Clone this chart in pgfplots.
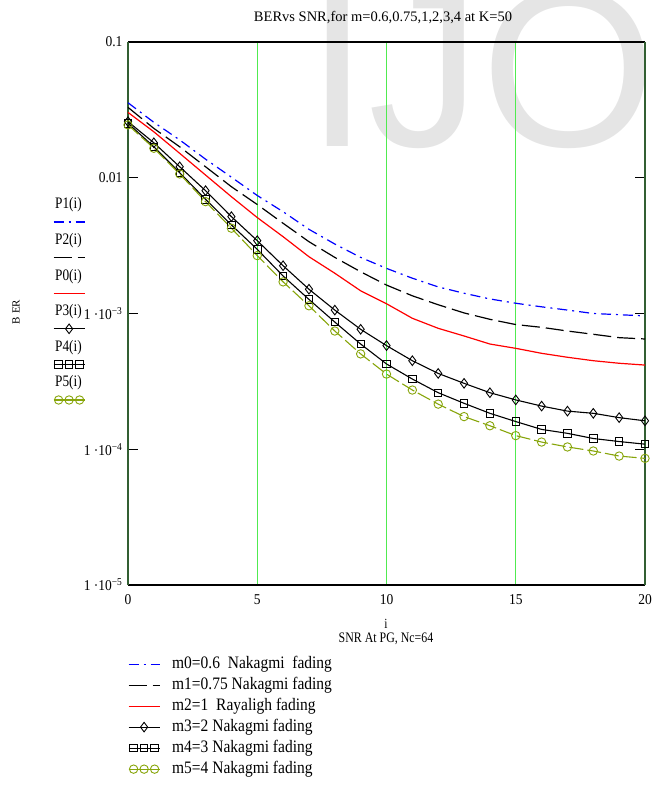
\documentclass[border=0pt]{standalone}
\usepackage{fontspec}
\setmainfont{Liberation Serif}
\setsansfont{Liberation Sans}
\newfontfamily\legfont[FakeStretch=0.885]{Liberation Serif}
\newfontfamily\trfont[FakeStretch=0.83]{Liberation Serif}
\newfontfamily\xlfont[FakeStretch=0.82]{Liberation Serif}
\newfontfamily\tkfont[FakeStretch=0.9]{Liberation Serif}
\usepackage{pgfplots}
\pgfplotsset{compat=1.18}

\definecolor{gridgreen}{RGB}{80,235,80}
\definecolor{axgreen}{RGB}{50,95,50}
\definecolor{olivec}{RGB}{135,165,10}

% legend samples: 31pt long, fixed 10pt high box
\pgfplotsset{
  lineleg/.style={legend image code/.code={
      \path[draw=none,fill=none] (0pt,-5pt) rectangle (31pt,5pt);
      \draw[##1,mark=none] (0pt,0pt) -- (31pt,0pt);}},
  oneleg/.style={legend image code/.code={
      \path[draw=none,fill=none] (0pt,-5pt) rectangle (31pt,5pt);
      \draw[##1,mark=none] (0pt,0pt) -- (31pt,0pt);
      \draw[##1] plot[only marks] coordinates {(15.5pt,0pt)};}},
  threeleg/.style={legend image code/.code={
      \path[draw=none,fill=none] (0pt,-5pt) rectangle (31pt,5pt);
      \draw[##1,mark=none,solid] (0pt,0pt) -- (31pt,0pt);
      \draw[##1,solid] plot[only marks] coordinates {(5pt,0pt) (15.5pt,0pt) (26pt,0pt)};}},
  sP1/.style={blue, line width=1.2pt, dash pattern=on 10pt off 5pt on 2pt off 5pt, mark=none, lineleg},
  sP2/.style={black, line width=1.2pt, dash pattern=on 18pt off 6pt, mark=none, lineleg},
  sP0/.style={red, line width=1.2pt, solid, mark=none, lineleg},
  sP3/.style={black, line width=1.1pt, solid, mark=diamond, mark size=4.8pt, mark options={solid, line width=0.9pt}, oneleg},
  sP4/.style={black, line width=1.1pt, solid, mark=square, mark size=3.7pt, mark options={solid, line width=0.9pt}, threeleg},
  sP5/.style={olivec, line width=1.1pt, dash pattern=on 14pt off 4pt, mark=o, mark size=4.2pt, mark options={solid, line width=0.9pt}, threeleg},
}

\begin{document}
\begin{tikzpicture}
\path[use as bounding box] (0pt,0pt) rectangle (652pt,800pt);

% watermark
\node[anchor=base west, inner sep=0pt, text=black!10,
      font=\sffamily\fontsize{225}{225}\selectfont] at (306pt,653pt) {IJO};

% title and labels
\node[font=\fontsize{14.5}{16}\selectfont] at (383pt,782pt) {BERvs SNR,for m=0.6,0.75,1,2,3,4 at K=50};
\node[rotate=90, font=\fontsize{11}{13}\selectfont] at (16pt,488pt) {B ER};
\node[font=\xlfont\fontsize{14}{16}\selectfont] at (386pt,176.5pt) {i};
\node[font=\xlfont\fontsize{14.5}{16}\selectfont] at (386pt,161.5pt) {SNR At PG, Nc=64};

% trace names on the left
\foreach \t/\yv in {P1(i)/595, P2(i)/559, P0(i)/523, P3(i)/488, P4(i)/452, P5(i)/417}
  \node[font=\trfont\fontsize{16}{18}\selectfont] at (68.5pt,\yv pt) {\t};

% hidden axis that only carries the trace samples on the left
\begin{axis}[
  at={(0pt,0pt)}, anchor=south west, scale only axis,
  width=652pt, height=800pt, hide axis,
  xmin=0, xmax=1, ymin=0, ymax=1,
  legend style={at={(53/652,{(800-217)/800})}, anchor=north west,
    draw=none, fill=none, inner sep=0pt, outer sep=0pt,
    row sep=25.6pt, column sep=0pt,
    nodes={inner sep=0pt, text height=0pt, text depth=0pt}},
]
\addlegendimage{sP1}\addlegendentry{\mbox{}}
\addlegendimage{sP2}\addlegendentry{\mbox{}}
\addlegendimage{sP0}\addlegendentry{\mbox{}}
\addlegendimage{sP3}\addlegendentry{\mbox{}}
\addlegendimage{sP4}\addlegendentry{\mbox{}}
\addlegendimage{sP5}\addlegendentry{\mbox{}}
\end{axis}

\begin{axis}[
  at={(128pt,215pt)}, anchor=south west, scale only axis,
  width=517pt, height=543pt,
  ymode=log, xmin=0, xmax=20, ymin=1e-5, ymax=0.1,
  xtick={0,5,10,15,20}, xticklabels={0,5,10,15,20},
  ytick={1e-5,1e-4,1e-3,1e-2,1e-1},
  yticklabels={1 ·10\textsuperscript{−5}, 1 ·10\textsuperscript{−4}, 1 ·10\textsuperscript{−3}, 0.01, 0.1},
  minor ytick={}, log basis y=10,
  xmajorgrids, major x grid style={gridgreen, line width=1pt},
  xtick style={draw=none},
  ytick style={black, line width=0.9pt}, ytick pos=both,
  tick align=inside, major tick length=10pt,
  axis line style={draw=none},
  tick label style={font=\tkfont\fontsize{15}{17}\selectfont},
  yticklabel style={xshift=-2pt},
  xticklabel style={yshift=-6pt},
  clip=false,
  legend style={at={(axis description cs:0,-0.131)}, anchor=north west,
    draw=none, fill=none, inner sep=0pt, outer sep=0pt,
    row sep=5pt, column sep=12pt,
    font=\legfont\fontsize{17.5}{19}\selectfont,
    nodes={inner sep=0pt, text height=12pt, text depth=4pt}},
  legend cell align=left,
]
% frame
\draw[black, line width=2pt] (axis description cs:0,1) -- (axis description cs:1,1);
\draw[black, line width=2pt] (axis description cs:0,0) -- (axis description cs:1,0);
\draw[axgreen, line width=2pt] (axis description cs:0,0) -- (axis description cs:0,1);
\draw[axgreen, line width=2pt] (axis description cs:1,0) -- (axis description cs:1,1);

\addplot[sP1] coordinates {
 (0,0.0357) (1,0.0256) (2,0.0190) (3,0.0137) (4,0.0101) (5,0.0074) (6,0.00562)
 (7,0.00417) (8,0.00325) (9,0.00259) (10,0.00215) (11,0.00182) (12,0.00157)
 (13,0.00141) (14,0.00128) (15,0.00119) (16,0.00112) (17,0.00106) (18,0.00100)
 (19,0.00098) (20,0.00096)};
\addlegendentry{m0=0.6\ \ Nakagmi\ \ fading}

\addplot[sP2] coordinates {
 (0,0.0330) (1,0.0231) (2,0.0169) (3,0.01205) (4,0.00859) (5,0.00635) (6,0.00462)
 (7,0.00338) (8,0.00259) (9,0.00203) (10,0.00162) (11,0.00135) (12,0.00116)
 (13,0.00101) (14,0.000906) (15,0.000829) (16,0.000791) (17,0.000743)
 (18,0.000703) (19,0.000664) (20,0.000649)};
\addlegendentry{m1=0.75 Nakagmi fading}

\addplot[sP0] coordinates {
 (0,0.0303) (1,0.0218) (2,0.01513) (3,0.01047) (4,0.00725) (5,0.00509) (6,0.00368)
 (7,0.00262) (8,0.00198) (9,0.00147) (10,0.00118) (11,0.000922) (12,0.000778)
 (13,0.000683) (14,0.000596) (15,0.000554) (16,0.000509) (17,0.000476)
 (18,0.000449) (19,0.000430) (20,0.000417)};
\addlegendentry{m2=1\ \ Rayaligh fading}

\addplot[sP3] coordinates {
 (0,0.0259) (1,0.0181) (2,0.01205) (3,0.00803) (4,0.00517) (5,0.00344) (6,0.00225)
 (7,0.00151) (8,0.00106) (9,0.000765) (10,0.000580) (11,0.000449) (12,0.000362)
 (13,0.000306) (14,0.000261) (15,0.000231) (16,0.000208) (17,0.000191)
 (18,0.000184) (19,0.000171) (20,0.000162)};
\addlegendentry{m3=2 Nakagmi fading}

\addplot[sP4] coordinates {
 (0,0.0252) (1,0.0169) (2,0.01089) (3,0.00694) (4,0.00449) (5,0.00297) (6,0.00189)
 (7,0.00127) (8,0.000865) (9,0.000596) (10,0.000425) (11,0.000329) (12,0.000261)
 (13,0.000218) (14,0.000184) (15,0.000160) (16,0.000140) (17,0.000131)
 (18,0.000120) (19,0.000114) (20,0.000109)};
\addlegendentry{m4=3 Nakagmi fading}

\addplot[sP5] coordinates {
 (0,0.0245) (1,0.0165) (2,0.01067) (3,0.00667) (4,0.00425) (5,0.00267) (6,0.00171)
 (7,0.00114) (8,0.000743) (9,0.000504) (10,0.000358) (11,0.000273) (12,0.000215)
 (13,0.000174) (14,0.000149) (15,0.000126) (16,0.000113) (17,0.000104)
 (18,0.0000971) (19,0.0000891) (20,0.0000857)};
\addlegendentry{m5=4 Nakagmi fading}
\end{axis}
\end{tikzpicture}
\end{document}
